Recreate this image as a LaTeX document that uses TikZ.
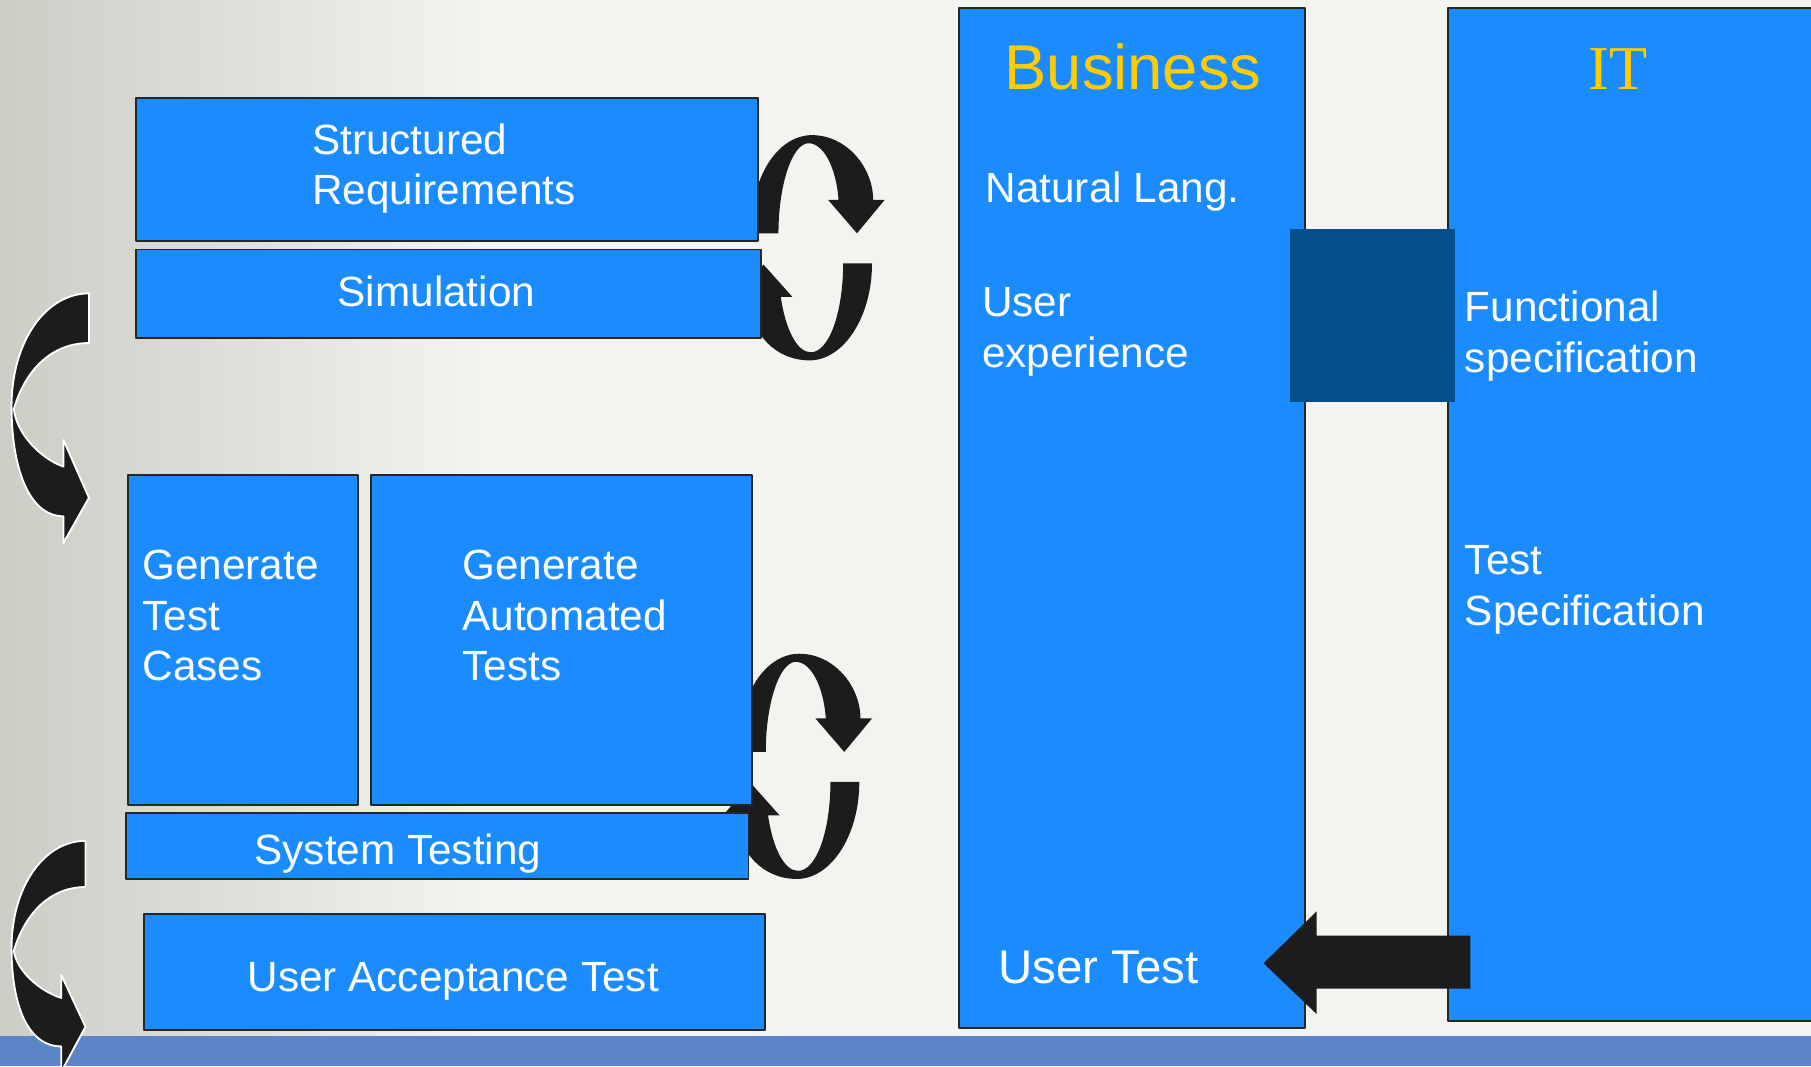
\documentclass[tikz,border=0pt]{standalone}
\usepackage{fontspec}
\setmainfont{Liberation Sans}
\newfontfamily\serifIT{Liberation Serif}
\usepackage{xcolor}
\usepackage{tikz}

\definecolor{boxblue}{RGB}{26,140,255}
\definecolor{darkslab}{RGB}{3,79,138}
\definecolor{titleyellow}{RGB}{255,204,0}
\definecolor{bandblue}{RGB}{91,133,198}
\definecolor{arrowblack}{RGB}{28,28,28}
\definecolor{bgleft}{RGB}{205,205,198}
\definecolor{bgright}{RGB}{243,243,240}

\tikzset{
    box/.style={draw=black!85, line width=0.8pt, fill=boxblue},
    txt/.style={text=white, inner sep=0pt, align=left, anchor=west, font=\fontsize{18.3}{22}\selectfont},
    title/.style={text=titleyellow, inner sep=0pt, font=\fontsize{27.4}{32}\selectfont},
    bendarrow/.style={fill=arrowblack, draw=white, line width=0.8pt},
}

\begin{document}
\begin{tikzpicture}[x=0.5pt, y=-0.5pt, line join = round]

                        \useasboundingbox (0,0) rectangle (1568,923);
                        % background
                        \fill[bgright] (0,0) rectangle (1568,897);
                        \shade[left color=bgleft, right color=bgright] (0,0) rectangle (420,897);
                        \fill[bandblue] (0,897) rectangle (1568,923);

                        % cycle arrows, drawn behind the boxes
                        \foreach \dx/\dy in {0/0, -11/449}{
                            \begin{scope}[shift={(\dx,\dy)}]
                                \fill[arrowblack] (650,202) .. controls (650,150) and (675,117) .. (703,117)
                                    .. controls (733,117) and (756,145) .. (756,173) -- (766,173) -- (742,202)
                                    -- (717,173) -- (726,173) .. controls (724,145) and (713,124) .. (700,124)
                                    .. controls (686,124) and (674,160) .. (674,202) -- cycle;
                                \fill[arrowblack] (755,228) .. controls (755,275) and (730,312) .. (701,312)
                                    .. controls (672,312) and (650,290) .. (648,257) -- (637,257) -- (661,229)
                                    -- (686,257) -- (676,257) .. controls (680,285) and (690,305) .. (702,305)
                                    .. controls (718,305) and (730,270) .. (730,228) -- cycle;
                            \end{scope}
                        }

                        % left column
                        \draw[box] (118,85) rectangle (656,209);
                        \draw[box] (118,216) rectangle (659,293);
                        \draw[box] (111,411) rectangle (310,697);
                        \draw[box] (321,411) rectangle (651,697);
                        \draw[box] (109,704) rectangle (648,761);
                        \draw[box] (125,791) rectangle (662,892);

                        \node[txt] (reqtxt) at (270,146) {Structured\\Requirements};
                        \node[txt] (simtxt) at (292,252) {Simulation};
                        \node[txt] (casetxt) at (123,533) {Generate\\Test\\Cases};
                        \node[txt] (autotxt) at (400,533) {Generate\\Automated\\Tests};
                        \node[txt] (systxt) at (220,739) {System Testing};
                        \node[txt] (uattxt) at (214,850) {User Acceptance Test};

                        % business and IT
                        \draw[box] (830,7) rectangle (1130,890);
                        \draw[box] (1254,7) rectangle (1580,884);
                        \fill[darkslab] (1117,198) rectangle (1260,348);

                        \node[title] (biztitle) at (981,58) {Business};
                        \node[title, font=\serifIT\fontsize{27}{32}\selectfont] (ittitle) at (1401,60) {IT};
                        \node[txt] (langtxt) at (853,166) {Natural Lang.};
                        \node[txt] (uxtxt) at (850,287) {User\\experience};
                        \node[txt] (functxt) at (1268,291) {Functional\\specification};
                        \node[txt] (spectxt) at (1268,511) {Test\\Specification};
                        \node[txt, font=\fontsize{20.5}{24}\selectfont] (usertxt) at (864,838) {User Test};

                        % arrow from IT back to business
                        \fill[arrowblack] (1273,810) -- (1140,810) -- (1140,789) -- (1094,834)
                            -- (1140,878) -- (1140,856) -- (1273,856) -- cycle;

                        % bent arrows on the left
                        \filldraw[bendarrow] (77,254) .. controls (40,254) and (10,295) .. (10,352)
                            .. controls (10,405) and (25,447) .. (55,447) -- (55,470) -- (77,431)
                            -- (55,381) -- (55,404) .. controls (35,397) and (14,375) .. (12,354)
                            .. controls (22,320) and (45,297) .. (77,297) -- cycle;
                        \filldraw[bendarrow] (74,728) .. controls (38,728) and (10,768) .. (10,821)
                            .. controls (10,870) and (24,906) .. (53,906) -- (53,928) -- (74,889)
                            -- (53,844) -- (53,864) .. controls (34,858) and (14,840) .. (12,823)
                            .. controls (22,790) and (44,768) .. (74,768) -- cycle;

                    \end{tikzpicture}
\end{document}
